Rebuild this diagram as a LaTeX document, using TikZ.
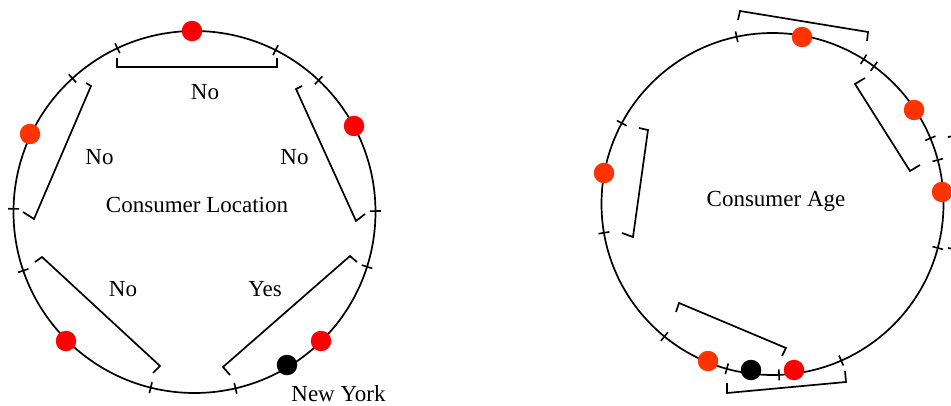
\documentclass[tikz,border=0pt]{standalone}
\usepackage{fontspec}
\setmainfont{Liberation Serif}
\usetikzlibrary{calc}
\definecolor{dotred}{RGB}{255,0,0}
\definecolor{dotorange}{RGB}{255,51,0}
\tikzset{
  ring/.style={draw=black, line width=1.7pt},
  tickmark/.style={draw=black, line width=1.6pt},
  bracketline/.style={draw=black, line width=1.7pt},
  dot/.style={circle, inner sep=0pt, minimum size=20.5pt, draw=none},
  lbl/.style={anchor=base, inner sep=0pt, font=\fontsize{23}{27}\selectfont}
}
\begin{document}
\begin{tikzpicture}[x=1pt,y=-1pt]
\clip (0,0) rectangle (951,406);
\fill[white] (0,0) rectangle (951,406);
% ---------- left circle ----------
\coordinate (L) at (194.5,212);
\draw[ring] (L) circle[radius=181pt];
\foreach \a in {-115.2,-63.4,-132.4,-46.7,181,-0.3,17.6,161.1,104,76.9}
  \draw[tickmark] ($(L)+(\a:175.5)$) -- ($(L)+(\a:186.5)$);
% brackets
\draw[bracketline] (117,58) -- (117,67) -- (277,67) -- (277,58);
\draw[bracketline] (302,86) -- (296,89) -- (356,221) -- (365,214);
\draw[bracketline] (86,83) -- (91,86) -- (34,219) -- (23,212);
\draw[bracketline] (35,262) -- (42,257) -- (160,366) -- (153,373);
\draw[bracketline] (357,262) -- (350,256) -- (223,367) -- (230,375);
% dots
\node[dot, fill=dotred] (l1) at (192,31) {};
\node[dot, fill=dotred] (l2) at (354,126) {};
\node[dot, fill=dotorange] (l3) at (30,134) {};
\node[dot, fill=dotred] (l4) at (66,341) {};
\node[dot, fill=dotred] (l5) at (321,341) {};
\node[dot, fill=black] (l6) at (287,365) {};
% labels
\node[lbl] (t1) at (205,100) {No};
\node[lbl] (t2) at (99.5,165) {No};
\node[lbl] (t3) at (294.5,165) {No};
\node[lbl] (t4) at (197,213) {Consumer Location};
\node[lbl] (t5) at (123,296.7) {No};
\node[lbl] (t6) at (265,296.7) {Yes};
\node[lbl] (t7) at (338.5,401.5) {New York};
% ---------- right circle ----------
\coordinate (R) at (772.5,204);
\draw[ring] (R) circle[radius=171pt];
\foreach \a in {-102.1,-57.8,-53.6,-22.6,-14.9,14.9,66.3,87.8,105.5,129.2,170.3,208.2}
  \draw[tickmark] ($(R)+(\a:165.5)$) -- ($(R)+(\a:176.5)$);
% brackets
\draw[bracketline] (738,20) -- (740,11) -- (868,32) -- (867,41);
\draw[bracketline] (865,78) -- (855,84) -- (910,171) -- (920,165);
\draw[bracketline] (948,137) -- (958,135) -- (958,250) -- (948,248);
\draw[bracketline] (639,128) -- (648,130) -- (633,237) -- (622,233);
\draw[bracketline] (676,312) -- (679,303) -- (786,348) -- (782,356);
\draw[bracketline] (727,383) -- (727,393) -- (846,382) -- (845,371);
% dots
\node[dot, fill=dotorange] (r1) at (802,37) {};
\node[dot, fill=dotorange] (r2) at (914,110) {};
\node[dot, fill=dotorange] (r3) at (942,192) {};
\node[dot, fill=dotorange] (r4) at (604,173) {};
\node[dot, fill=dotorange] (r5) at (708,361) {};
\node[dot, fill=black] (r6) at (751,370) {};
\node[dot, fill=dotred] (r7) at (794,370) {};
\node[lbl] (t8) at (776,207) {Consumer Age};
\end{tikzpicture}
\end{document}
